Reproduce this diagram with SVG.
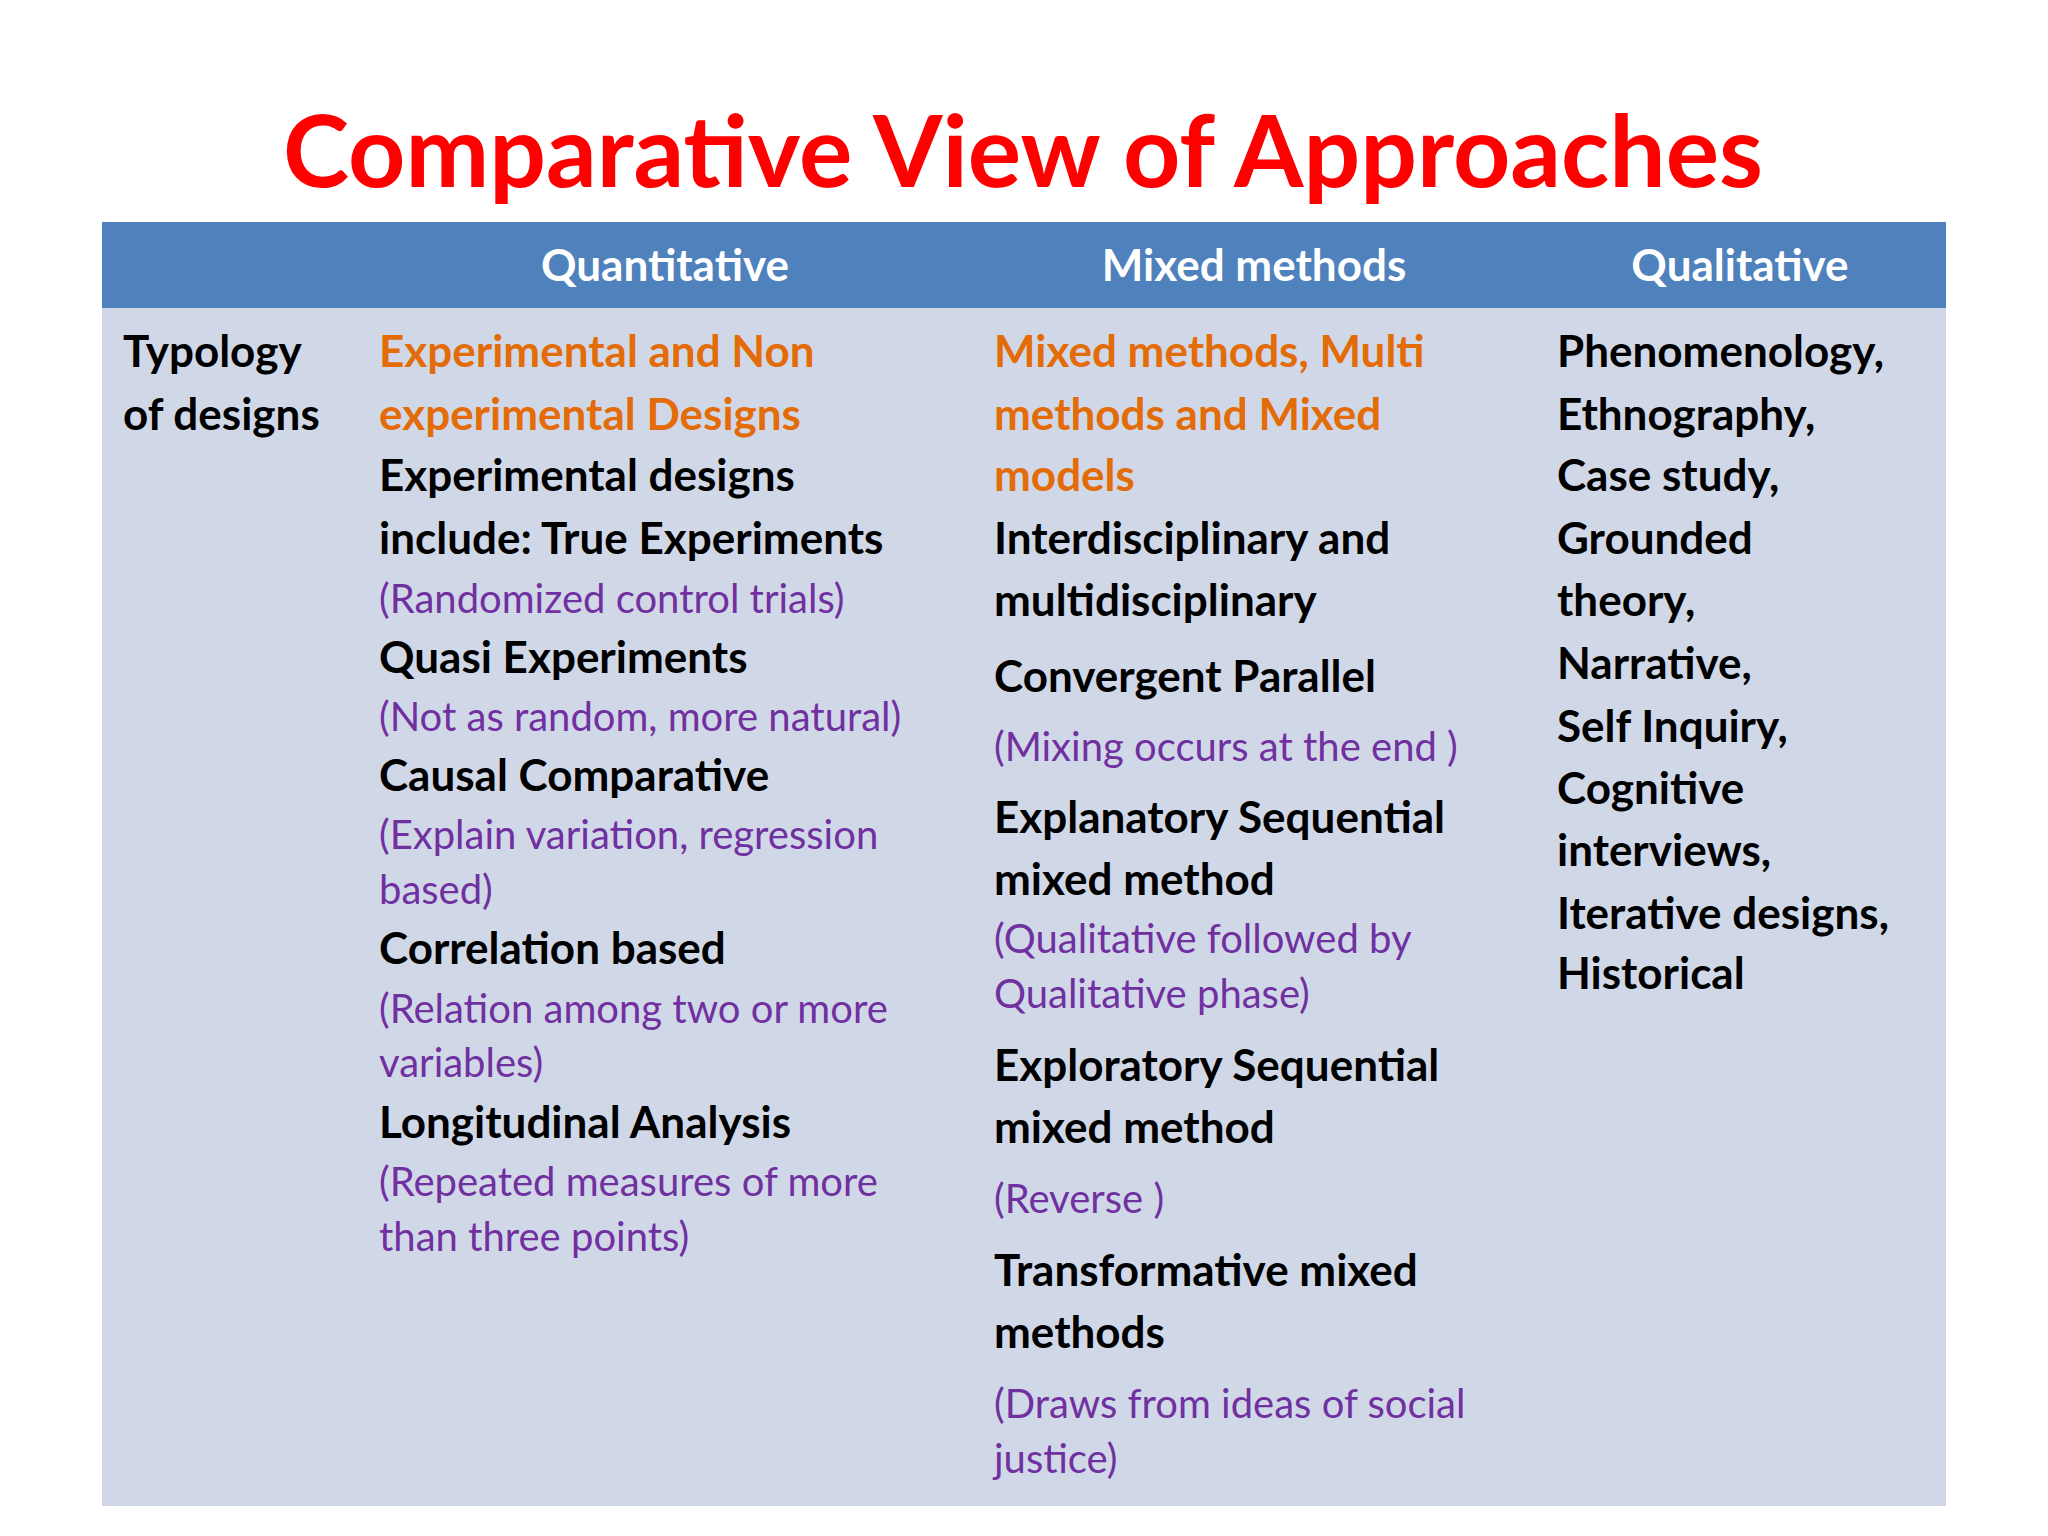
<svg xmlns="http://www.w3.org/2000/svg" width="2048" height="1536" viewBox="0 0 2048 1536">
<style>
text{font-family:Lato,"Open Sans","Liberation Sans",sans-serif}
.h{font-size:44px;font-weight:bold;fill:#fff;text-anchor:middle}
.b{font-size:44px;font-weight:bold;fill:#000}
.o{font-size:44px;font-weight:bold;fill:#E36C09}
.p{font-size:40px;fill:#7030A0}
</style>
<rect width="2048" height="1536" fill="#fff"/>
<text x="1023" y="187" font-size="100" font-weight="bold" fill="#FF0000" text-anchor="middle">Comparative View of Approaches</text>
<rect x="102" y="222" width="1844" height="86" fill="#4F81BD"/>
<rect x="102" y="308" width="1844" height="1198" fill="#D0D8E8"/>
<text class="h" x="665" y="281">Quantitative</text>
<text class="h" x="1254" y="281">Mixed methods</text>
<text class="h" x="1740" y="281">Qualitative</text>
<g id="col1"><text class="b" x="123" y="367">Typology</text><text class="b" x="123" y="430">of designs</text></g>
<g id="col2">
<text class="o" x="379" y="367">Experimental and Non</text>
<text class="o" x="379" y="430">experimental Designs</text>
<text class="b" x="379" y="491">Experimental designs</text>
<text class="b" x="379" y="554">include: True Experiments</text>
<text class="p" x="379" y="613">(Randomized control trials)</text>
<text class="b" x="379" y="673">Quasi Experiments</text>
<text class="p" x="379" y="731">(Not as random, more natural)</text>
<text class="b" x="379" y="791">Causal Comparative</text>
<text class="p" x="379" y="849">(Explain variation, regression</text>
<text class="p" x="379" y="904">based)</text>
<text class="b" x="379" y="964">Correlation based</text>
<text class="p" x="379" y="1023">(Relation among two or more</text>
<text class="p" x="379" y="1077">variables)</text>
<text class="b" x="379" y="1138">Longitudinal Analysis</text>
<text class="p" x="379" y="1196">(Repeated measures of more</text>
<text class="p" x="379" y="1251">than three points)</text>
</g>
<g id="col3">
<text class="o" x="994" y="367">Mixed methods, Multi</text>
<text class="o" x="994" y="430">methods and Mixed</text>
<text class="o" x="994" y="491">models</text>
<text class="b" x="994" y="554">Interdisciplinary and</text>
<text class="b" x="994" y="616">multidisciplinary</text>
<text class="b" x="994" y="692">Convergent Parallel</text>
<text class="p" x="994" y="761">(Mixing occurs at the end )</text>
<text class="b" x="994" y="833">Explanatory Sequential</text>
<text class="b" x="994" y="895">mixed method</text>
<text class="p" x="994" y="953">(Qualitative followed by</text>
<text class="p" x="994" y="1008">Qualitative phase)</text>
<text class="b" x="994" y="1081">Exploratory Sequential</text>
<text class="b" x="994" y="1143">mixed method</text>
<text class="p" x="994" y="1213">(Reverse )</text>
<text class="b" x="994" y="1286">Transformative mixed</text>
<text class="b" x="994" y="1348">methods</text>
<text class="p" x="994" y="1418">(Draws from ideas of social</text>
<text class="p" x="994" y="1473">justice)</text>
</g>
<g id="col4">
<text class="b" x="1557" y="367">Phenomenology,</text>
<text class="b" x="1557" y="430">Ethnography,</text>
<text class="b" x="1557" y="491">Case study,</text>
<text class="b" x="1557" y="554">Grounded</text>
<text class="b" x="1557" y="616">theory,</text>
<text class="b" x="1557" y="679">Narrative,</text>
<text class="b" x="1557" y="742">Self Inquiry,</text>
<text class="b" x="1557" y="804">Cognitive</text>
<text class="b" x="1557" y="866">interviews,</text>
<text class="b" x="1557" y="929">Iterative designs,</text>
<text class="b" x="1557" y="989">Historical</text>
</g>
</svg>
